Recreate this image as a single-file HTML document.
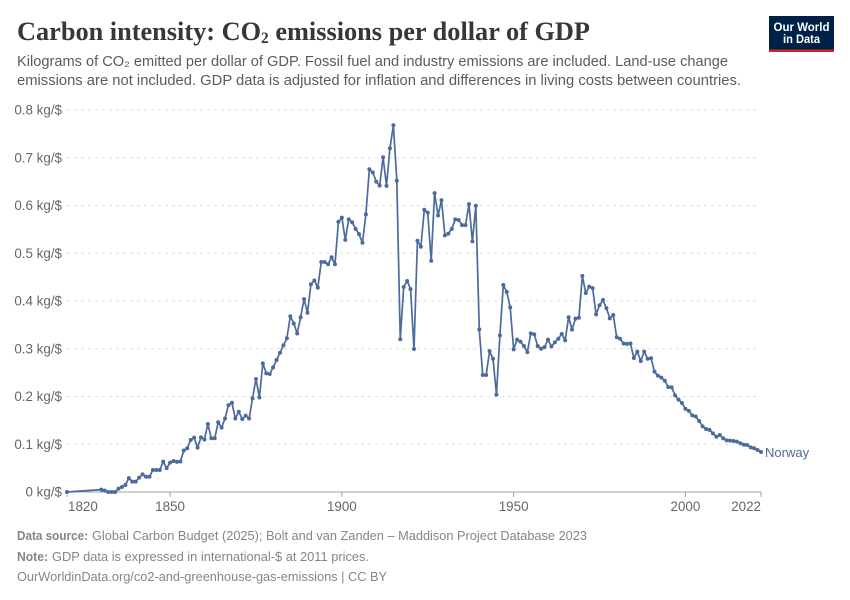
<!DOCTYPE html>
<html lang="en">
<head>
<meta charset="utf-8">
<title>Carbon intensity: CO₂ emissions per dollar of GDP</title>
<style>
html,body{margin:0;padding:0;background:#fff;width:850px;height:600px;overflow:hidden}
svg{display:block;font-family:"Liberation Sans",sans-serif}
</style>
</head>
<body>
<svg id="chart" xmlns="http://www.w3.org/2000/svg" width="850" height="600" viewBox="0 0 850 600">
  <rect x="0" y="0" width="850" height="600" fill="#fff"/>
  <text x="17" y="40" font-family="'Liberation Serif',serif" font-weight="700" font-size="26.5" fill="#373737" textLength="573" lengthAdjust="spacingAndGlyphs">Carbon intensity: CO<tspan font-size="15.5" dy="3">2</tspan><tspan dy="-3"> emissions per dollar of GDP</tspan></text>
  <text x="17" y="66" font-size="14.5" fill="#5b5b5b" textLength="711" lengthAdjust="spacingAndGlyphs">Kilograms of CO₂ emitted per dollar of GDP. Fossil fuel and industry emissions are included. Land-use change</text>
  <text x="17" y="85" font-size="14.5" fill="#5b5b5b" textLength="724" lengthAdjust="spacingAndGlyphs">emissions are not included. GDP data is adjusted for inflation and differences in living costs between countries.</text>

  <g>
    <rect x="769" y="16" width="65" height="36" fill="#002147"/>
    <rect x="769" y="49.5" width="65" height="2.5" fill="#ce261e"/>
    <text x="801.5" y="31" font-size="11.5" font-weight="700" fill="#fff" text-anchor="middle" textLength="56" lengthAdjust="spacingAndGlyphs">Our World</text>
    <text x="801.5" y="43" font-size="11.5" font-weight="700" fill="#fff" text-anchor="middle" textLength="37" lengthAdjust="spacingAndGlyphs">in Data</text>
  </g>

  <g id="grid"></g>
  <g id="xaxis"></g>
  <g id="yaxis"></g>
  <g id="series"></g>

  <text x="17" y="540" font-size="13" font-weight="700" fill="#858585" textLength="71" lengthAdjust="spacingAndGlyphs">Data source:</text>
  <text x="92" y="540" font-size="13" fill="#858585" textLength="495" lengthAdjust="spacingAndGlyphs">Global Carbon Budget (2025); Bolt and van Zanden – Maddison Project Database 2023</text>
  <text x="17" y="561" font-size="13" font-weight="700" fill="#858585" textLength="31" lengthAdjust="spacingAndGlyphs">Note:</text>
  <text x="52" y="561" font-size="13" fill="#858585" textLength="317" lengthAdjust="spacingAndGlyphs">GDP data is expressed in international-$ at 2011 prices.</text>
  <text x="17" y="581" font-size="13" fill="#858585" textLength="370" lengthAdjust="spacingAndGlyphs">OurWorldinData.org/co2-and-greenhouse-gas-emissions | CC BY</text>
</svg>
<script>
const seriesName = "Norway";
const years = [1820,1830,1831,1832,1833,1834,1835,1836,1837,1838,1839,
1840,1841,1842,1843,1844,1845,1846,1847,1848,1849,
1850,1851,1852,1853,1854,1855,1856,1857,1858,1859,
1860,1861,1862,1863,1864,1865,1866,1867,1868,1869,
1870,1871,1872,1873,1874,1875,1876,1877,1878,1879,
1880,1881,1882,1883,1884,1885,1886,1887,1888,1889,
1890,1891,1892,1893,1894,1895,1896,1897,1898,1899,
1900,1901,1902,1903,1904,1905,1906,1907,1908,1909,
1910,1911,1912,1913,1914,1915,1916,1917,1918,1919,
1920,1921,1922,1923,1924,1925,1926,1927,1928,1929,
1930,1931,1932,1933,1934,1935,1936,1937,1938,1939,
1940,1941,1942,1943,1944,1945,1946,1947,1948,1949,
1950,1951,1952,1953,1954,1955,1956,1957,1958,1959,
1960,1961,1962,1963,1964,1965,1966,1967,1968,1969,
1970,1971,1972,1973,1974,1975,1976,1977,1978,1979,
1980,1981,1982,1983,1984,1985,1986,1987,1988,1989,
1990,1991,1992,1993,1994,1995,1996,1997,1998,1999,
2000,2001,2002,2003,2004,2005,2006,2007,2008,2009,
2010,2011,2012,2013,2014,2015,2016,2017,2018,2019,
2020,2021,2022];
const intensity = [0,0.005,0.003,0,0,0,0.007,0.0105,0.0147,0.029,0.0217,
0.0217,0.03,0.037,0.032,0.032,0.046,0.046,0.046,0.0635,0.05,
0.0615,0.065,0.063,0.064,0.087,0.0915,0.109,0.114,0.093,0.1145,
0.11,0.1424,0.1125,0.1125,0.146,0.1347,0.154,0.182,0.187,0.154,
0.168,0.153,0.16,0.154,0.196,0.2366,0.198,0.2695,0.2485,0.247,
0.261,0.2764,0.2917,0.307,0.322,0.368,0.353,0.332,0.366,0.404,
0.3755,0.435,0.443,0.428,0.4817,0.4817,0.477,0.4915,0.477,0.566,
0.5745,0.528,0.571,0.565,0.551,0.54,0.522,0.5815,0.6758,0.6695,
0.65,0.6415,0.701,0.641,0.72,0.768,0.652,0.32,0.4293,0.442,
0.425,0.2995,0.5263,0.5137,0.591,0.585,0.4844,0.626,0.579,0.611,
0.5375,0.541,0.551,0.571,0.5696,0.559,0.559,0.603,0.525,0.5996,
0.3407,0.245,0.245,0.295,0.279,0.204,0.328,0.4335,0.419,0.3867,
0.2988,0.319,0.315,0.3057,0.293,0.3323,0.33,0.3057,0.3,0.3037,
0.319,0.305,0.3134,0.321,0.331,0.3176,0.366,0.34,0.363,0.365,
0.4523,0.4167,0.43,0.427,0.372,0.391,0.402,0.385,0.3637,0.3707,
0.324,0.321,0.311,0.3103,0.311,0.2806,0.294,0.2743,0.294,0.279,
0.28,0.252,0.2436,0.2395,0.233,0.22,0.219,0.2024,0.1934,0.1864,
0.174,0.17,0.1605,0.158,0.1487,0.1375,0.132,0.13,0.1228,0.1158,
0.1194,0.1124,0.108,0.1075,0.1068,0.1054,0.102,0.099,0.0984,0.0935,
0.0915,0.088,0.0838];
const yTicks = [0,0.1,0.2,0.3,0.4,0.5,0.6,0.7,0.8];
const yTickLabels = ["0 kg/$","0.1 kg/$","0.2 kg/$","0.3 kg/$","0.4 kg/$","0.5 kg/$","0.6 kg/$","0.7 kg/$","0.8 kg/$"];
const xTicks = [1820,1850,1900,1950,2000,2022];

const NS = "http://www.w3.org/2000/svg";
const plotLeft = 67, plotRight = 761, plotBottom = 492, plotTop = 110;
const xMin = 1820, xMax = 2022, yMin = 0, yMax = 0.8;
function xScale(v){ return plotLeft + (v - xMin) / (xMax - xMin) * (plotRight - plotLeft); }
function yScale(v){ return plotBottom - (v - yMin) / (yMax - yMin) * (plotBottom - plotTop); }
function make(tag, attrs){
  const el = document.createElementNS(NS, tag);
  for (const k in attrs) el.setAttribute(k, attrs[k]);
  return el;
}

const grid = document.getElementById("grid");
const yAxis = document.getElementById("yaxis");
const xAxis = document.getElementById("xaxis");
const seriesGroup = document.getElementById("series");

yTicks.forEach(function(t, i){
  const y = yScale(t);
  if (t !== 0) {
    const line = make("line", {x1: plotLeft, x2: 760, y1: y, y2: y, stroke: "#dddddd", "stroke-width": 1, "stroke-dasharray": "3 4"});
    
    
    grid.appendChild(line);
  }
  const label = make("text", {x: 62, y: y + 4.6, "text-anchor": "end", "font-size": 13.4, fill: "#666666"});
  
  
  label.textContent = yTickLabels[i];
  yAxis.appendChild(label);
});

const axisLine = make("line", {x1: plotLeft, x2: plotRight, y1: plotBottom, y2: plotBottom, stroke: "#a1a1a1", "stroke-width": 1});


xAxis.appendChild(axisLine);

xTicks.forEach(function(t, i){
  const x = xScale(t);
  const tick = make("line", {x1: x, x2: x, y1: plotBottom, y2: plotBottom + 5, stroke: "#a1a1a1", "stroke-width": 1});
  
  
  xAxis.appendChild(tick);
  const anchor = i === 0 ? "start" : (i === xTicks.length - 1 ? "end" : "middle");
  const label = make("text", {x: i === 0 ? x + 1 : x, y: 511, "text-anchor": anchor, "font-size": 13.4, fill: "#666666"});
  
  
  label.textContent = t;
  xAxis.appendChild(label);
});

const points = years.map(function(yr, i){ return xScale(yr).toFixed(2) + "," + yScale(intensity[i]).toFixed(2); }).join(" ");
const path = make("polyline", {points: points, fill: "none", stroke: "#4c6a9c", "stroke-width": 1.7, "stroke-linejoin": "round"});


seriesGroup.appendChild(path);

years.forEach(function(yr, i){
  const dot = make("circle", {cx: xScale(yr), cy: yScale(intensity[i]), r: 2, fill: "#4c6a9c"});
  
  
  seriesGroup.appendChild(dot);
});

const lastValue = intensity[intensity.length - 1];
const endLabel = make("text", {x: 765, y: yScale(lastValue) + 5, "font-size": 13, fill: "#4c6a9c"});


endLabel.textContent = seriesName;
seriesGroup.appendChild(endLabel);
</script>
</body>
</html>
